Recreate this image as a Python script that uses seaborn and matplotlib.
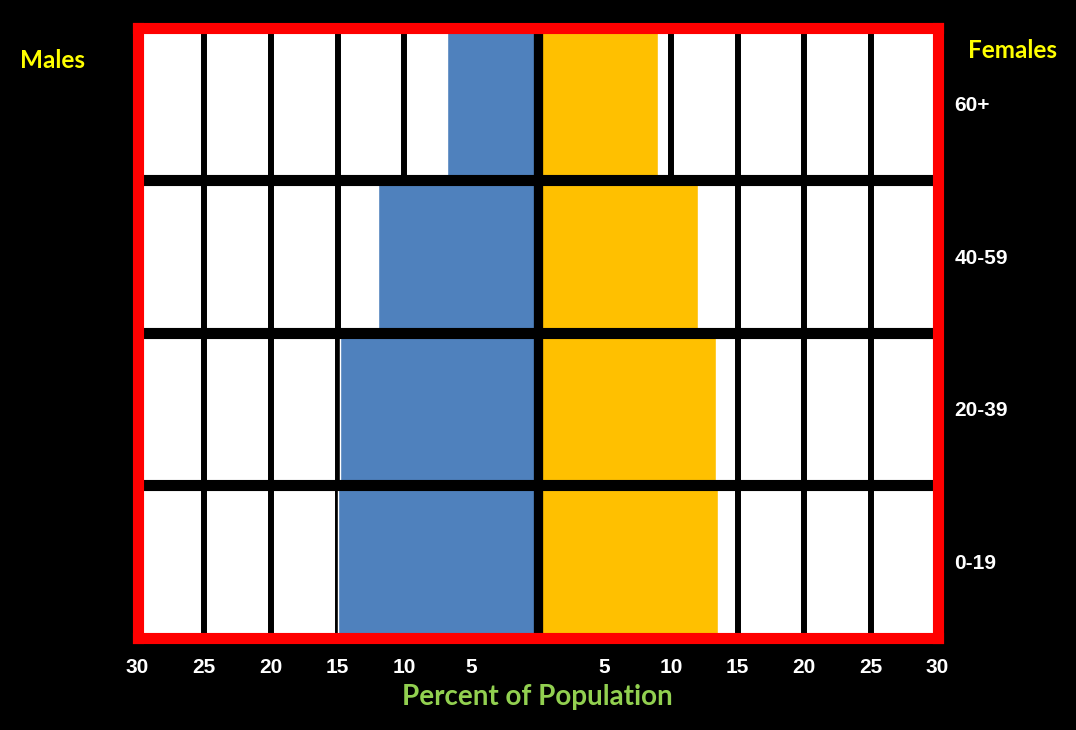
import matplotlib.pyplot as plt
import seaborn as sns
import pandas as pd

age_groups = ["60+", "40-59", "20-39", "0-19"]
males = [6.8, 12.0, 14.8, 15.0]
females = [9.0, 12.0, 13.4, 13.5]
x_ticks = [-30, -25, -20, -15, -10, -5, 5, 10, 15, 20, 25, 30]
x_labels = ["30", "25", "20", "15", "10", "5", "5", "10", "15", "20", "25", "30"]

df = pd.DataFrame({
    "Age": age_groups * 2,
    "Percent": [-m for m in males] + females,
    "Sex": ["Males"] * len(males) + ["Females"] * len(females),
})

sns.set_style("white")
plt.rcParams["font.family"] = ["Liberation Sans", "DejaVu Sans"]

fig = plt.figure(figsize=(10.76, 7.30), dpi=100, facecolor="black")
ax = fig.add_axes([0.1278, 0.1267, 0.7435, 0.8356])
ax.set_facecolor("white")

sns.barplot(data=df, x="Percent", y="Age", hue="Sex", order=age_groups,
            hue_order=["Males", "Females"],
            palette={"Males": "#4F81BD", "Females": "#FFC000"},
            saturation=1, dodge=False, width=1.0, orient="h", legend=False,
            edgecolor="white", linewidth=1, ax=ax)

ax.set_axisbelow(True)
ax.set_xticks(x_ticks)
ax.set_xticklabels(x_labels, fontweight="bold")
ax.grid(axis="x", color="black", lw=4.3)
ax.grid(axis="y", visible=False)
ax.set_xlim(-30, 30)
ax.set_ylim(len(age_groups) - 0.5, -0.5)

for i in range(len(age_groups) - 1):
    ax.axhline(i + 0.5, color="black", lw=8, zorder=3)
ax.axvline(0, color="black", lw=6.7, zorder=3)

for s in ax.spines.values():
    s.set_color("red")
    s.set_linewidth(8)
    s.set_zorder(5)

ax.tick_params(axis="x", length=0, pad=15, labelcolor="white", labelsize=15)
ax.yaxis.tick_right()
ax.tick_params(axis="y", length=0, pad=12, labelcolor="white", labelsize=15)
for t in ax.get_yticklabels():
    t.set_fontweight("bold")
ax.set_ylabel("")
ax.set_xlabel("Percent of Population", color="#92D050", fontsize=20,
              fontweight="bold", family="Lato", labelpad=5)

fig.text(52 / 1076, 1 - 60 / 730, "Males", color="#FFFF00", fontsize=17.5,
         fontweight="bold", family="Lato", ha="center", va="center")
fig.text(1012 / 1076, 1 - 50 / 730, "Females", color="#FFFF00", fontsize=17.5,
         fontweight="bold", family="Lato", ha="center", va="center")

fig.savefig("out.png", dpi=100, facecolor="black")
plt.close()
